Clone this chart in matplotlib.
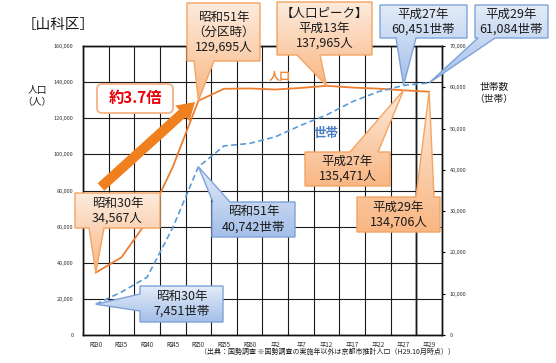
import numpy as np
import matplotlib
matplotlib.use('Agg')
import matplotlib.pyplot as plt
from matplotlib.patches import Polygon, FancyBboxPatch, FancyArrow
from matplotlib.colors import LinearSegmentedColormap

plt.rcParams['font.family'] = ['Noto Sans CJK JP', 'DejaVu Sans']

# ---------------- data ----------------
categories = ['昭30', '昭35', '昭40', '昭45', '昭50', '昭55', '昭60',
              '平2', '平7', '平12', '平17', '平22', '平27', '平29']
population = [34567, 43000, 63000, 93000, 129695, 136300, 136500,
              135900, 136800, 137965, 137000, 136400, 135471, 134706]
households = [7451, 10400, 14000, 26000, 40742, 45800, 46400,
              48000, 50800, 53300, 56500, 58900, 60451, 61084]
pop_ticks = list(range(0, 160001, 20000))
hh_ticks = list(range(0, 70001, 10000))

# ---------------- figure ----------------
W, H = 556, 363
fig = plt.figure(figsize=(W / 100, H / 100), dpi=100)
L, R, T, B = 83, 442, 46, 335
ax = fig.add_axes([L / W, 1 - B / H, (R - L) / W, (B - T) / H])
ax2 = ax.twinx()

x = np.arange(len(categories))
ax.set_xlim(-0.5, len(categories) - 0.5)
ax.set_ylim(0, 160000)
ax2.set_ylim(0, 70000)

ax.set_xticks(x)
ax.set_xticklabels(categories, fontsize=4.5, color='#333333')
ax.set_xticks(np.arange(-0.5, len(categories), 1), minor=True)
ax.tick_params(axis='x', which='major', length=0, pad=4)
ax.tick_params(axis='x', which='minor', length=0)
ax.set_yticks(pop_ticks)
ax.set_yticklabels([f'{v:,}' for v in pop_ticks], fontsize=4, color='#333333')
ax.tick_params(axis='y', length=0, pad=7)
ax2.set_yticks(hh_ticks)
ax2.set_yticklabels([f'{v:,}' for v in hh_ticks], fontsize=4, color='#333333')
ax2.tick_params(axis='y', length=2.5, width=0.8, pad=3)

ax.grid(which='minor', axis='x', color='#1a1a1a', lw=0.8)
ax.grid(which='major', axis='y', color='#1a1a1a', lw=0.8)
ax.grid(which='major', axis='x', visible=False)
ax.axvline(len(categories) - 1.5, color='#8c8c8c', lw=1.8, zorder=1)
for a in (ax, ax2):
    for s in a.spines.values():
        s.set_color('#111111')
        s.set_linewidth(1.0)

ax.plot(x, population, color='#ED7D31', lw=1.3, zorder=3)
ax2.plot(x, households, color='#5B9BD5', lw=1.2, ls=(0, (3.5, 2)), zorder=3)

# ---------------- overlay in pixel coords ----------------
ov = fig.add_axes([0, 0, 1, 1])
ov.set_xlim(0, W)
ov.set_ylim(H, 0)
ov.axis('off')
ov.patch.set_alpha(0)


def to_px(axis, xv, yv):
    d = axis.transData.transform((xv, yv))
    return tuple(ov.transData.inverted().transform(d))


def callout(box, edge, base, tip, ctop, cbot, ec, text, fs=9):
    x0, y0, x1, y1 = box
    b0, b1 = base
    if edge == 'bottom':
        pts = [(x0, y0), (x1, y0), (x1, y1), (b1, y1), tip, (b0, y1), (x0, y1)]
    elif edge == 'top':
        pts = [(x0, y0), (b0, y0), tip, (b1, y0), (x1, y0), (x1, y1), (x0, y1)]
    elif edge == 'left':
        pts = [(x0, y0), (x1, y0), (x1, y1), (x0, y1), (x0, b1), tip, (x0, b0)]
    else:
        pts = [(x0, y0), (x1, y0), (x1, b0), tip, (x1, b1), (x1, y1), (x0, y1)]
    poly = Polygon(pts, closed=True, fc='none', ec=ec, lw=1.0, zorder=6)
    ov.add_patch(poly)
    xs = [p[0] for p in pts]
    ys = [p[1] for p in pts]
    cmap = LinearSegmentedColormap.from_list('g', [ctop, cbot])
    grad = np.linspace(0, 1, 64).reshape(-1, 1)
    im = ov.imshow(grad, cmap=cmap, extent=[min(xs), max(xs), max(ys), min(ys)],
                   aspect='auto', origin='upper', zorder=5, interpolation='bilinear')
    im.set_clip_path(poly)
    ov.text((x0 + x1) / 2, (y0 + y1) / 2, text, ha='center', va='center',
            fontsize=fs, color='#1a1a1a', linespacing=1.2, zorder=7)


OR_T, OR_B, OR_E = '#FDEBDD', '#F9B784', '#F4A460'
BL_T, BL_B, BL_E = '#E3ECF8', '#A4BFE9', '#7EA3D8'

callout((187, 3, 260, 61), 'bottom', (194, 214), to_px(ax, 4, population[4]),
        OR_T, OR_B, OR_E, '昭和51年\n（分区時）\n129,695人')
callout((277, 2, 372, 55), 'bottom', (297, 320), to_px(ax, 9, population[9]),
        OR_T, OR_B, OR_E, '【人口ピーク】\n平成13年\n137,965人')
callout((75, 193, 160, 228), 'bottom', (89, 104), to_px(ax, 0, population[0]),
        OR_T, OR_B, OR_E, '昭和30年\n34,567人')
callout((305, 152, 390, 186), 'top', (350, 378), to_px(ax, 12, population[12]),
        OR_T, OR_B, OR_E, '平成27年\n135,471人')
callout((357, 197, 440, 232), 'top', (416, 434), to_px(ax, 13, population[13]),
        OR_T, OR_B, OR_E, '平成29年\n134,706人')

callout((380, 5, 467, 38), 'bottom', (396, 416), to_px(ax2, 12, households[12]),
        BL_T, BL_B, BL_E, '平成27年\n60,451世帯')
callout((475, 5, 548, 38), 'bottom', (478, 495), to_px(ax2, 13, households[13]),
        BL_T, BL_B, BL_E, '平成29年\n61,084世帯')
callout((212, 202, 295, 237), 'top', (213, 230), to_px(ax2, 4, households[4]),
        BL_T, BL_B, BL_E, '昭和51年\n40,742世帯')
callout((140, 286, 223, 322), 'left', (294, 311), to_px(ax2, 0, households[0]),
        BL_T, BL_B, BL_E, '昭和30年\n7,451世帯')

# big growth arrow
ov.add_patch(FancyArrow(101, 187, 94, -85, width=10, head_width=21, head_length=17,
                        length_includes_head=True, fc='#F07F1E', ec='none', zorder=8))
ov.add_patch(FancyBboxPatch((97, 84), 76, 29, boxstyle='round,pad=0,rounding_size=5',
                            fc='white', ec='#F4B183', lw=1.3, zorder=8))
ov.text(135, 98.5, '約3.7倍', ha='center', va='center', fontsize=11,
        fontweight='bold', color='#E8000B', zorder=9)

# series labels
ov.text(280, 76, '人口', ha='center', va='center', fontsize=8, fontweight='bold',
        color='#F08A3C', zorder=4)
ov.text(326, 133, '世帯', ha='center', va='center', fontsize=9, fontweight='bold',
        color='#4A7EC0', zorder=4)

# titles / axis labels / source
ov.text(58, 25, '［山科区］', ha='center', va='center', fontsize=10.5, color='#1a1a1a')
ov.text(37, 96, '人口\n（人）', ha='center', va='center', fontsize=7, color='#1a1a1a',
        linespacing=1.15)
ov.text(494, 93, '世帯数\n（世帯）', ha='center', va='center', fontsize=7,
        color='#1a1a1a', linespacing=1.15)
ov.text(327, 352, '（出典：国勢調査 ※国勢調査の実施年以外は京都市推計人口（H29.10月時点））',
        ha='center', va='center', fontsize=5, color='#1a1a1a')

ov.set_xlim(0, W)
ov.set_ylim(H, 0)

fig.savefig('out.png', dpi=100)
